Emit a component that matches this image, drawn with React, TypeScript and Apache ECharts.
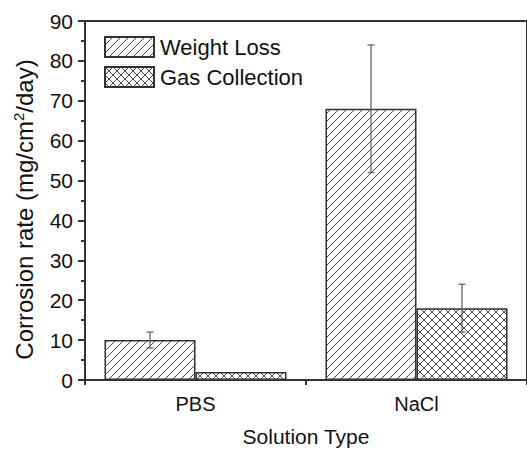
import React, { useEffect, useRef } from "react";
import * as echarts from "echarts";

const categories = ["PBS", "NaCl"];
const weightLoss = [10, 68];
const weightLossErr = [2, 16];
const gasCollection = [2, 18];
const gasCollectionErr = [0, 6];
const yTicks = { min: 0, max: 90, interval: 10 };

const FONT = "'Liberation Sans', Arial, Helvetica, sans-serif";
const BAR_W = 91;

function makePattern(cross: boolean, size: number) {
  const c = document.createElement("canvas");
  c.width = size;
  c.height = size;
  const ctx = c.getContext("2d")!;
  ctx.fillStyle = "#ffffff";
  ctx.fillRect(0, 0, size, size);
  ctx.strokeStyle = "#4a4a4a";
  ctx.lineWidth = 1;
  ctx.beginPath();
  ctx.moveTo(0, size);
  ctx.lineTo(size, 0);
  ctx.moveTo(-2, 2);
  ctx.lineTo(2, -2);
  ctx.moveTo(size - 2, size + 2);
  ctx.lineTo(size + 2, size - 2);
  if (cross) {
    ctx.moveTo(0, 0);
    ctx.lineTo(size, size);
    ctx.moveTo(-2, size - 2);
    ctx.lineTo(2, size + 2);
    ctx.moveTo(size - 2, -2);
    ctx.lineTo(size + 2, 2);
  }
  ctx.stroke();
  return { image: c, repeat: "repeat", imageWidth: size, imageHeight: size } as any;
}

export default function App() {
  const ref = useRef<HTMLDivElement>(null);
  useEffect(() => {
    if (!ref.current) return;
    const chart = echarts.init(ref.current, undefined, { renderer: "svg" });
    const hatch = makePattern(false, 8);
    const crossHatch = makePattern(true, 8);

    const errData: number[][] = [];
    categories.forEach((_, i) => {
      errData.push([i, weightLoss[i] - weightLossErr[i], weightLoss[i] + weightLossErr[i], -1]);
      if (gasCollectionErr[i] > 0)
        errData.push([i, gasCollection[i] - gasCollectionErr[i], gasCollection[i] + gasCollectionErr[i], 1]);
    });

    const option: any = {
      animation: false,
      backgroundColor: "#ffffff",
      textStyle: { fontFamily: FONT },
      grid: {
        left: 85,
        top: 21,
        width: 452,
        height: 364,
        show: true,
        borderColor: "#333",
        borderWidth: 2,
        containLabel: false,
      },
      legend: {
        orient: "vertical",
        left: 99,
        top: 31,
        icon: "rect",
        itemWidth: 49,
        itemHeight: 20,
        itemGap: 8,
        textStyle: { fontSize: 22, lineHeight: 20, color: "#111", fontFamily: FONT, padding: [0, 0, 0, 1] },
        data: ["Weight Loss", "Gas Collection"],
      },
      xAxis: [
        {
          type: "category",
          data: categories,
          boundaryGap: true,
          name: "Solution Type",
          nameLocation: "middle",
          nameGap: 46,
          nameTextStyle: { fontSize: 21, color: "#111", fontFamily: FONT },
          axisLine: { lineStyle: { color: "#333", width: 2 } },
          axisTick: { alignWithLabel: true, length: 10, lineStyle: { color: "#333", width: 2 } },
          axisLabel: { fontSize: 20, color: "#111", margin: 14, fontFamily: FONT },
        },
        {
          type: "value",
          position: "bottom",
          min: 0,
          max: 2,
          interval: 1,
          axisLine: { show: false },
          axisTick: { show: true, length: 5, lineStyle: { color: "#333", width: 2 } },
          axisLabel: { show: false },
          splitLine: { show: false },
        },
      ],
      yAxis: {
        type: "value",
        min: yTicks.min,
        max: yTicks.max,
        interval: yTicks.interval,
        name: "Corrosion rate (mg/cm{sup|2}/day)",
        nameLocation: "middle",
        nameGap: 48,
        nameTextStyle: {
          fontSize: 24,
          color: "#111",
          fontFamily: FONT,
          padding: [0, 18, 0, 0],
          rich: {
            sup: { fontSize: 15, color: "#111", fontFamily: FONT, verticalAlign: "top", lineHeight: 26 },
          },
        },
        axisLine: { show: true, lineStyle: { color: "#333", width: 2 } },
        axisTick: { show: true, length: 7, lineStyle: { color: "#333", width: 2 } },
        minorTick: { show: true, splitNumber: 2, length: 4, lineStyle: { color: "#333", width: 2 } },
        axisLabel: { fontSize: 21, color: "#111", margin: 12, fontFamily: FONT },
        splitLine: { show: false },
      },
      series: [
        {
          name: "Weight Loss",
          type: "bar",
          data: weightLoss,
          barWidth: BAR_W,
          barGap: "0%",
          itemStyle: { color: hatch, borderColor: "#333", borderWidth: 1.5 },
        },
        {
          name: "Gas Collection",
          type: "bar",
          data: gasCollection,
          barWidth: BAR_W,
          barGap: "0%",
          itemStyle: { color: crossHatch, borderColor: "#333", borderWidth: 1.5 },
        },
        {
          name: "err",
          type: "custom",
          data: errData,
          z: 10,
          encode: { x: 0, y: [1, 2] },
          renderItem: (params: any, api: any) => {
            const cat = api.value(0);
            const lo = api.coord([cat, api.value(1)]);
            const hi = api.coord([cat, api.value(2)]);
            const x = lo[0] + api.value(3) * (BAR_W / 2);
            const cap = 3.5;
            const style = { stroke: "#666", lineWidth: 1.3 };
            return {
              type: "group",
              children: [
                { type: "line", shape: { x1: x, y1: lo[1], x2: x, y2: hi[1] }, style },
                { type: "line", shape: { x1: x - cap, y1: hi[1], x2: x + cap, y2: hi[1] }, style },
                { type: "line", shape: { x1: x - cap, y1: lo[1], x2: x + cap, y2: lo[1] }, style },
              ],
            };
          },
        },
      ],
    };
    chart.setOption(option);
    return () => chart.dispose();
  }, []);
  return (
    <div
      ref={ref}
      style={{ position: "absolute", left: 0, top: 0, width: 527, height: 452, overflow: "hidden" }}
    />
  );
}
